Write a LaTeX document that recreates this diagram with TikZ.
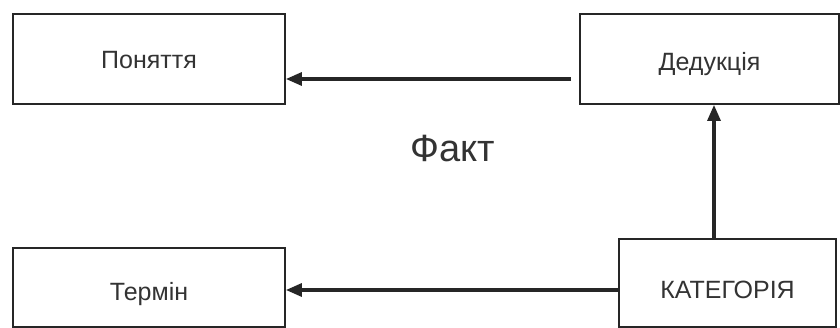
\documentclass[tikz,border=0pt]{standalone}
\usepackage{fontspec}
\setmainfont{Liberation Sans}
\usetikzlibrary{arrows.meta}

\begin{document}
\begin{tikzpicture}[x=1pt, y=-1pt, main/.style = {draw=black!85, line width=1.8pt, rectangle, inner sep=0pt, text=black!80, text depth=0pt, font=\fontsize{25}{30}\selectfont}, arr/.style = {draw=black!85, line width=3.2pt, -{Triangle[length=16pt, width=13pt]}}]
            \useasboundingbox (0,0) rectangle (840,328);
            \node[main, minimum width=272pt, minimum height=90pt, text height=20pt] (1) at (149,59) {Поняття};
            \node[main, minimum width=259pt, minimum height=90pt, text height=24pt] (2) at (709.5,59) {Дедукція};
            \node[main, minimum width=272pt, minimum height=79pt, text height=27pt] (3) at (149,287.5) {Термін};
            \node[main, minimum width=217pt, minimum height=88pt, text height=32pt] (4) at (727.5,283) {КАТЕГОРІЯ};
            \node[text=black!80, font=\fontsize{38}{45}\selectfont, anchor=base] (5) at (453,162) {Факт};
            \draw[arr, shorten <=8pt] ([yshift=-20pt]2.west) -- ([yshift=-20pt]1.east);
            \draw[arr] ([xshift=-13.5pt]4.north) -- ([xshift=4.5pt]2.south);
            \draw[arr] ([yshift=-7pt]4.west) -- ([yshift=-2.5pt]3.east);
        \end{tikzpicture}
\end{document}
